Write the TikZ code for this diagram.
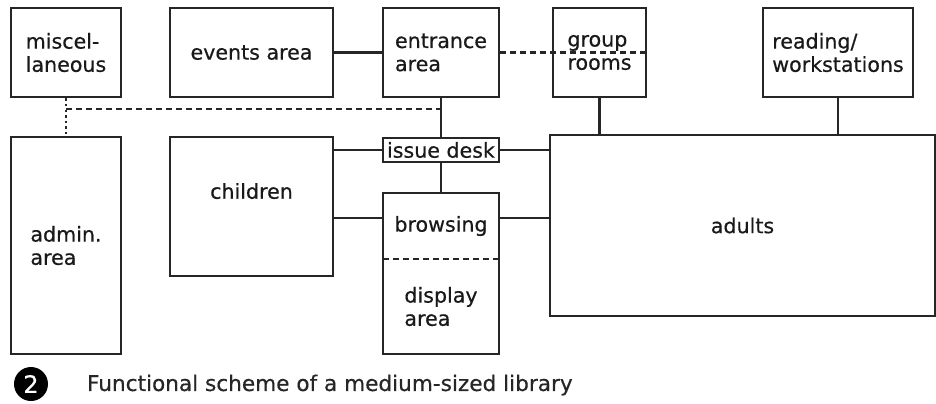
\documentclass[tikz,border=0pt]{standalone}
\usepackage{fontspec}
\setmainfont{DejaVu Sans}[BoldFont=DejaVu Sans,BoldFeatures={FakeBold=0.5}]

\begin{document}
\begin{tikzpicture}[x=.5pt,y=-.5pt,font=\fontsize{10.3}{11.6}\selectfont\bfseries,
 room/.style={rectangle,draw=black!85,line width=1.3pt,text=black!90,align=left,inner sep=1pt},
 zone/.style={room,draw=none},
 outline/.style={draw=black!85,line width=1.1pt},
 link/.style={draw=black!85,line width=1.1pt},
 weak/.style={link,dash pattern=on 3pt off 2pt},
 dots/.style={link,line width=1.3pt,dash pattern=on 1.2pt off 1.6pt}]
 \useasboundingbox (0,0) rectangle (936,403);
 \node[room,minimum width=55pt,minimum height=44.5pt] (misc) at (66,52.5) {miscel-\\laneous};
 \node[room,minimum width=81.5pt,minimum height=44.5pt] (events) at (251.5,52.5) {events area};
 \node[room,minimum width=58pt,minimum height=44.5pt] (entrance) at (441,52.5) {entrance\\area};
 \node[room,minimum width=46.5pt,minimum height=44.5pt] (group) at (599.5,52.5) {group\\rooms};
 \node[room,minimum width=75pt,minimum height=44.5pt] (reading) at (838,52.5) {reading/\\workstations};
 \node[room,minimum width=55pt,minimum height=108.5pt] (admin) at (66,245.5) {admin.\\area};
 \node[room,minimum width=81.5pt,minimum height=69.5pt] (children) at (251.5,206.5) {children\\[4pt]};
 \node[room,minimum width=58pt,minimum height=12pt,inner sep=0pt] (issue) at (441,150) {issue desk};
 \node[zone,minimum width=58pt,minimum height=33pt,outer sep=0pt] (browsing) at (441,226) {browsing};
 \node[zone,minimum width=58pt,minimum height=47.5pt,outer sep=0pt] (display) at (441,306.5) {display\\area};
 \node[room,minimum width=192.5pt,minimum height=90.5pt] (adults) at (742.5,225.5) {adults};
 \draw[outline] (browsing.north west) rectangle (display.south east);
 \draw[weak,line width=.8pt] (display.north west) -- (display.north east);
 \coordinate (hall) at (0,109);
 \coordinate (row) at (0,218);
 \draw[link] (events) -- (entrance);
 \draw[weak] (entrance.east) -- (group.east);
 \draw[link] (entrance) -- (issue);
 \draw[dots] (misc) -- (admin);
 \draw[weak] (misc.south |- hall) -- (entrance.south |- hall);
 \draw[link] (children.east |- issue.west) -- (issue.west);
 \draw[link] (issue.east) -- (adults.west |- issue.east);
 \draw[link] (issue) -- (browsing);
 \draw[link] (children.east |- row) -- (browsing.west |- row);
 \draw[link] (browsing.east |- row) -- (adults.west |- row);
 \draw[link] (group) -- (group.south |- adults.north);
 \draw[link] (reading) -- (reading.south |- adults.north);
 \node[circle,fill=black,text=white,minimum size=17pt,inner sep=0pt,
       font=\fontsize{12}{12}\selectfont\bfseries] (num) at (31,384) {2};
 \node[anchor=west,text=black!85,font=\fontsize{10.8}{12}\selectfont\bfseries] (caption) at (80,385)
   {Functional scheme of a medium-sized library};
\end{tikzpicture}
\end{document}
